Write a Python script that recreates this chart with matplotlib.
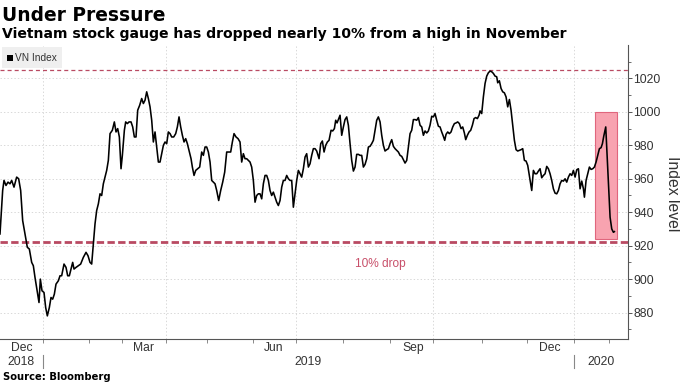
import matplotlib
matplotlib.use('Agg')
import matplotlib.pyplot as plt
from matplotlib.patches import Rectangle
from matplotlib.lines import Line2D

plt.rcParams['lines.scale_dashes'] = False

# ---------------- data (x = trading-session number from the chart start) ----------------
vn_index_points = [
    (0.0, 927), (1.25, 953), (1.88, 959), (2.82, 956), (3.76, 958), (4.69, 957), (5.48, 959),
    (6.57, 955), (7.82, 961), (8.76, 960), (9.70, 953), (10.64, 935), (11.74, 927), (12.83, 919),
    (13.77, 918), (14.87, 910), (15.65, 908), (16.43, 901), (17.53, 892), (18.31, 886), (18.94, 900),
    (19.72, 893), (20.66, 892), (21.44, 883), (22.22, 878), (23.16, 883), (23.94, 889), (24.73, 888),
    (25.51, 891), (26.29, 897), (27.39, 899), (28.17, 902), (28.95, 902), (30.05, 909), (30.99, 907),
    (31.77, 902), (32.55, 902), (33.33, 906), (34.12, 910), (34.74, 906), (35.68, 907), (36.78, 908),
    (37.87, 909), (39.12, 913), (40.38, 916), (41.31, 914), (42.25, 910), (43.04, 909), (43.82, 921),
    (44.60, 933), (45.38, 941), (46.17, 945), (46.95, 951), (47.73, 950), (48.51, 957),
    (49.30, 961), (50.08, 965), (50.86, 971), (51.65, 987), (52.74, 989), (53.68, 994), (54.46, 988),
    (55.25, 990), (56.03, 985), (56.81, 966), (57.44, 974), (58.38, 989), (59.00, 994), (59.79, 993),
    (60.57, 994), (61.51, 994), (62.29, 991), (63.07, 985), (63.85, 985), (64.64, 1001), (65.58, 1004),
    (66.51, 1008), (67.30, 1005), (68.08, 1007), (68.86, 1012), (69.64, 1008), (70.43, 1003),
    (71.21, 995), (71.99, 982), (72.77, 988), (73.56, 979), (74.34, 970), (75.12, 970), (75.90, 975),
    (76.69, 980), (77.47, 982), (78.25, 981), (79.03, 988), (79.82, 987), (80.60, 985), (81.54, 985),
    (82.48, 987), (83.26, 991), (84.04, 997), (84.82, 991), (85.61, 986), (86.39, 982), (87.17, 984),
    (87.95, 981), (88.74, 977), (89.68, 972), (90.30, 967), (91.08, 962), (91.87, 965), (92.81, 966),
    (93.74, 967), (94.68, 976), (95.47, 974), (96.25, 979), (97.03, 979), (97.81, 976), (98.60, 970),
    (99.38, 959),
    (100.94, 957), (101.72, 953), (102.66, 947), (103.60, 953), (104.54, 958), (105.48, 964),
    (106.42, 976), (107.35, 976), (108.29, 976), (109.08, 982), (109.86, 987), (110.80, 985),
    (111.74, 984), (112.67, 982), (113.46, 970), (114.24, 975), (115.02, 972), (115.80, 972),
    (116.59, 971), (117.37, 970), (118.15, 967), (118.93, 959), (119.72, 946), (120.50, 950),
    (121.28, 951), (122.06, 951), (122.85, 948), (123.63, 957), (124.41, 962), (125.19, 962),
    (125.98, 959), (126.76, 953), (127.54, 950), (128.32, 952), (129.11, 949), (129.89, 946),
    (130.67, 944), (131.45, 947), (132.24, 955), (133.02, 959), (133.80, 959), (134.58, 962),
    (135.37, 960), (136.15, 959), (136.93, 959), (137.71, 943), (138.50, 951), (139.28, 959),
    (140.06, 965), (140.84, 963), (141.63, 961), (142.41, 966), (143.19, 973), (143.97, 975),
    (144.76, 967), (145.54, 969), (146.32, 974), (147.10, 978), (147.89, 978),
    (148.67, 976.6), (149.77, 972), (150.55, 981), (151.33, 982.6), (152.12, 976), (152.90, 980),
    (153.68, 982), (154.46, 983), (155.40, 989), (156.18, 988.6), (156.97, 990), (157.59, 995),
    (158.22, 993.4), (158.84, 995.4), (159.63, 998), (160.41, 986), (161.19, 991), (161.97, 995.4),
    (162.76, 997), (163.54, 992), (164.32, 981), (165.10, 971), (165.89, 964.6), (166.67, 967),
    (167.45, 974.6), (168.23, 974.6), (169.02, 974), (169.80, 974), (170.58, 967), (171.36, 968.6),
    (172.15, 972), (172.93, 979), (173.71, 979.4), (174.49, 981), (175.28, 983), (176.06, 989),
    (176.84, 995), (177.62, 997), (178.41, 994), (179.19, 986), (179.97, 980), (180.75, 976.6),
    (181.54, 977.4), (182.32, 978), (183.10, 981), (183.88, 983.4), (184.67, 979.4), (185.45, 978),
    (186.23, 977), (187.01, 976), (187.80, 974), (188.58, 973.4), (189.36, 971.4), (190.14, 969.4),
    (190.93, 971), (191.71, 979), (192.49, 987), (193.27, 989), (194.06, 995.4), (194.84, 995.4),
    (195.62, 995), (196.40, 996.6), (197.19, 992), (197.97, 991), (198.75, 986), (199.53, 988.6),
    (200.31, 987.4), (201.09, 988.6), (201.87, 992), (202.66, 997.4), (203.44, 997), (204.22, 999),
    (205.00, 995), (205.79, 991.4), (206.57, 991), (207.35, 988), (208.13, 985.4), (208.76, 983),
    (209.39, 986.6), (210.17, 988), (210.95, 987), (211.73, 988), (212.52, 991), (213.30, 993),
    (214.08, 993.4), (214.86, 994), (215.65, 993), (216.43, 990), (217.21, 991), (217.99, 987.4),
    (218.62, 983.4), (219.40, 986), (220.19, 988), (220.97, 989), (221.75, 992), (222.53, 996),
    (223.31, 996.6), (224.10, 996), (224.88, 998), (225.35, 1000.6), (226.13, 999), (226.91, 1009),
    (227.70, 1017), (228.48, 1021.4), (229.26, 1023.4), (230.04, 1024.4), (230.83, 1024),
    (231.61, 1023), (232.39, 1021.4), (233.17, 1021), (233.64, 1017.4), (234.42, 1018.6),
    (235.21, 1014), (235.99, 1012), (236.77, 1011.4), (237.55, 1009), (238.34, 1003),
    (239.12, 1007.4), (239.90, 1001), (240.68, 992), (241.47, 983), (242.25, 977.4), (243.03, 976.6),
    (243.81, 977), (244.60, 977.4), (245.38, 978), (246.16, 971), (246.94, 970.6), (247.73, 968),
    (248.83, 959), (249.61, 953), (250.39, 965), (251.17, 963), (251.96, 963), (252.74, 964.6),
    (253.52, 966), (254.30, 960.6), (255.09, 962), (255.87, 963), (256.65, 967.4), (257.43, 966),
    (258.22, 963), (259.00, 959), (259.78, 954), (260.56, 951.4), (261.35, 951), (262.13, 953),
    (262.91, 957), (263.69, 959), (264.48, 958.6), (265.26, 960), (266.04, 958), (266.82, 961),
    (267.61, 963), (268.39, 962), (269.17, 965), (269.95, 961), (270.74, 965.4), (271.52, 966),
    (272.30, 954), (273.08, 958.6), (273.87, 954), (274.34, 949), (275.12, 959), (275.90, 963),
    (276.68, 967), (277.47, 965.6), (278.25, 966), (279.03, 967), (279.81, 970), (280.60, 974),
    (281.38, 978), (282.16, 978.6), (282.79, 981), (283.41, 985.4), (284.35, 991), (286.39, 937),
    (287.17, 930), (287.95, 928), (288.42, 928.4),
]
session = [p[0] for p in vn_index_points]
vn_index = [p[1] for p in vn_index_points]

high_level = 1024.9
drop_level = 922.4
highlight_x = (279.5, 289.5)
highlight_y = (924, 1000)

y_major = [880, 900, 920, 940, 960, 980, 1000, 1020]
y_minor = [870, 890, 910, 930, 950, 970, 990, 1010, 1030]
month_starts = [20.0, 41.6, 57.1, 78.0, 97.0, 118.9, 139.0, 161.2, 183.2, 203.4, 226.4, 247.4, 269.6, 286.1]
quarter_starts = [20.0, 77.9, 139.0, 203.4, 269.6]
month_labels = ["Dec", "Mar", "Jun", "Sep", "Dec"]
month_label_pos = [10.3, 67.3, 128.6, 193.9, 258.2]
year_labels = ["2018", "2019", "2020"]
year_label_pos = [10.0, 144.8, 282.2]
year_breaks = [20.0, 269.6]

# ---------------- figure ----------------
W, H = 680, 383
fig = plt.figure(figsize=(W / 100, H / 100), dpi=100)
ax_left, ax_right, ax_bottom, ax_top = 0, 628, 339.3, 45
ax = fig.add_axes([ax_left / W, 1 - ax_bottom / H, (ax_right - ax_left) / W, (ax_bottom - ax_top) / H])

ax.set_xlim(0, 294.8)
ax.set_ylim(864, 1040)

red = '#b94a62'
grid_c = '#d2d2d2'

# gridlines
for yv in y_major:
    ax.axhline(yv, color=grid_c, lw=0.6, ls=(0, (1, 1.5)), zorder=0)
for xv in quarter_starts:
    ax.axvline(xv, color=grid_c, lw=0.6, ls=(0, (1, 1.5)), zorder=0)

# highlight
ax.add_patch(Rectangle((highlight_x[0], highlight_y[0]), highlight_x[1] - highlight_x[0],
                       highlight_y[1] - highlight_y[0], facecolor='#f8a3b0',
                       edgecolor='#e0667d', lw=0.8, zorder=1))

# reference lines
ax.axhline(high_level, color=red, lw=0.9, ls=(0, (2.9, 2.2)), zorder=2)
ax.axhline(drop_level, color=red, lw=2.0, ls=(0, (5.3, 2.4)), zorder=2)
ax.text(178.4, 908.9, "10% drop", color='#c8506a', fontsize=8.6,
        family='Liberation Sans', ha='center', va='center')

ax.plot(session, vn_index, color='black', lw=1.15, zorder=3, solid_joinstyle='round')

# spines
for s in ['left', 'top']:
    ax.spines[s].set_visible(False)
for s in ['right', 'bottom']:
    ax.spines[s].set_color('#555555')
    ax.spines[s].set_linewidth(0.8)

# y axis on the right
ax.yaxis.tick_right()
ax.set_yticks(y_major)
ax.set_yticks(y_minor, minor=True)
ax.set_yticklabels([str(v) for v in y_major], family='Liberation Sans', fontsize=8.7, color='#333333')
ax.tick_params(axis='y', which='major', length=3, width=0.7, color='#555555', pad=0.8)
ax.tick_params(axis='y', which='minor', length=2, width=0.6, color='#555555')

# x ticks (month boundaries)
ax.set_xticks(month_starts)
ax.set_xticklabels([])
ax.tick_params(axis='x', which='major', length=3, width=0.6, color='#777777')

xt = ax.get_xaxis_transform()
axh = ax_bottom - ax_top
for lab, pos in zip(month_labels, month_label_pos):
    ax.text(pos, -(348.3 - ax_bottom) / axh, lab, transform=xt, ha='center', va='center',
            family='Liberation Sans', fontsize=8.7, color='#333333')
for lab, pos in zip(year_labels, year_label_pos):
    ax.text(pos, -(362.3 - ax_bottom) / axh, lab, transform=xt, ha='center', va='center',
            family='Liberation Sans', fontsize=8.7, color='#333333')
for xb in year_breaks:
    ax.add_line(Line2D([xb, xb], [-(355 - ax_bottom) / axh, -(368 - ax_bottom) / axh],
                       transform=xt, color='#888888', lw=0.8, clip_on=False))

# y label
fig.text(673 / W, 1 - 193.5 / H, "Index level", rotation=270, ha='center', va='center',
         family='Liberation Sans', fontsize=11.3, color='#333333')

# titles
fig.text(2 / W, 1 - 20.7 / H, "Under Pressure", fontsize=13.4, fontweight='bold',
         family='DejaVu Sans', va='baseline', ha='left')
fig.text(2 / W, 1 - 37.7 / H,
         "Vietnam stock gauge has dropped nearly 10% from a high in November",
         fontsize=10.05, fontweight='bold', family='DejaVu Sans', va='baseline', ha='left')
fig.text(3 / W, 1 - 379.5 / H, "Source: Bloomberg", fontsize=7.2, fontweight='bold',
         family='DejaVu Sans', va='baseline', ha='left')

# legend box
fig.add_artist(Rectangle((2 / W, 1 - 68 / H), 60 / W, 21 / H, transform=fig.transFigure,
                         facecolor='#efefef', edgecolor='none', zorder=5))
fig.add_artist(Rectangle((7 / W, 1 - 61 / H), 6 / W, 6 / H, transform=fig.transFigure,
                         facecolor='black', edgecolor='none', zorder=6))
fig.text(15 / W, 1 - 58 / H, "VN Index", fontsize=7.3, family='Liberation Sans',
         va='center', ha='left', color='#333333', zorder=6)

fig.savefig('out.png', dpi=100)
